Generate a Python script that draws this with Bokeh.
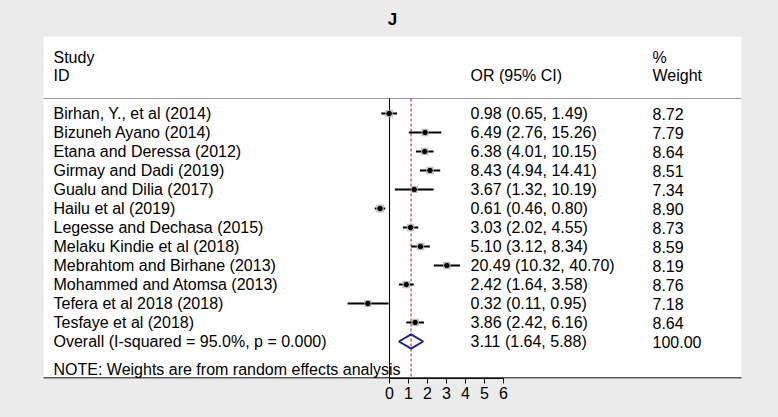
from bokeh.plotting import figure
from bokeh.models import Range1d, FixedTicker, LinearAxis, ColumnDataSource
from bokeh.core.properties import value
from bokeh.embed import file_html
from bokeh.resources import INLINE
import numpy as np

# ---------------- data ----------------
studies = ["Birhan, Y., et al (2014)", "Bizuneh Ayano  (2014)", "Etana and Deressa  (2012)",
           "Girmay and Dadi  (2019)", "Gualu and Dilia  (2017)", "Hailu  et al  (2019)",
           "Legesse and Dechasa  (2015)", "Melaku Kindie et al  (2018)", "Mebrahtom and Birhane  (2013)",
           "Mohammed and Atomsa (2013)", "Tefera et al 2018  (2018)", "Tesfaye et al  (2018)"]
or_vals = [0.98, 6.49, 6.38, 8.43, 3.67, 0.61, 3.03, 5.10, 20.49, 2.42, 0.32, 3.86]
ci_low = [0.65, 2.76, 4.01, 4.94, 1.32, 0.46, 2.02, 3.12, 10.32, 1.64, 0.11, 2.42]
ci_high = [1.49, 15.26, 10.15, 14.41, 10.19, 0.80, 4.55, 8.34, 40.70, 3.58, 0.95, 6.16]
weights = [8.72, 7.79, 8.64, 8.51, 7.34, 8.90, 8.73, 8.59, 8.19, 8.76, 7.18, 8.64]
overall_label = "Overall  (I-squared = 95.0%, p = 0.000)"
overall_or, overall_low, overall_high, overall_weight = 3.11, 1.64, 5.88, 100.00
axis_ticks = [0, 1, 2, 3, 4, 5, 6]
note = "NOTE: Weights are from random effects analysis"
title_text = "J"

# ---------------- layout helpers ----------------
W, H = 778, 417
OFF = 0                                  # page offset of the figure
X0_PAGE, XSCALE = 389.0, 19.0            # page x of ln(OR)=0 and px per unit
Y0_PAGE, YSTEP = 113.0, 19.0             # page y of first row and row spacing
FRAME_BOTTOM_PAGE = 378.0


def px(xp):
    return (xp - X0_PAGE) / XSCALE


def py(yp):
    return (yp - Y0_PAGE) / YSTEP


FONT = "Liberation Sans"
FS = "16px"

p = figure(width=W, height=H, output_backend="svg", toolbar_location=None,
           x_range=Range1d(px(OFF), px(OFF + W)),
           y_range=Range1d(py(FRAME_BOTTOM_PAGE), py(OFF)),
           min_border_left=0, min_border_right=0, min_border_top=0,
           min_border_bottom=int(OFF + H - FRAME_BOTTOM_PAGE),
           x_axis_type=None, y_axis_type=None)
p.background_fill_color = "#ebebeb"
p.border_fill_color = "#ebebeb"
p.outline_line_color = None
p.grid.visible = False

# white panel
p.quad(left=px(43), right=px(741), top=py(36), bottom=py(FRAME_BOTTOM_PAGE),
       fill_color="white", line_color=None)
# header separator
p.segment(x0=px(43), x1=px(741), y0=py(98), y1=py(98), line_color="#9a9a9a", line_width=1)
# bottom border
p.segment(x0=px(43), x1=px(741), y0=py(FRAME_BOTTOM_PAGE) - 0.02, y1=py(FRAME_BOTTOM_PAGE) - 0.02,
          line_color="#222222", line_width=1.5)

# null line and overall line
p.segment(x0=0, x1=0, y0=py(98), y1=py(FRAME_BOTTOM_PAGE), line_color="black", line_width=1)
p.segment(x0=np.log(overall_or), x1=np.log(overall_or), y0=py(98), y1=py(FRAME_BOTTOM_PAGE),
          line_color="#b0443f", line_width=1.2, line_dash="3 2")

rows = list(range(len(studies)))
src = ColumnDataSource(dict(
    y=rows,
    est=np.log(or_vals),
    lo=np.log(ci_low),
    hi=np.log(ci_high),
    size=np.sqrt(weights) * 2.6,
    study=studies,
    ci=[f"{o:.2f} ({l:.2f}, {h:.2f})" for o, l, h in zip(or_vals, ci_low, ci_high)],
    w=[f"{w:.2f}" for w in weights],
))

p.segment(x0="lo", x1="hi", y0="y", y1="y", source=src, line_color="black", line_width=1.8)
p.scatter(x="est", y="y", size="size", marker="square", source=src,
          fill_color="#b8b8b8", fill_alpha=0.85, line_color=None)
p.scatter(x="est", y="y", size=4.5, source=src, fill_color="black", line_color="black")

# overall diamond
oy = len(studies)
le, ee, he = np.log(overall_low), np.log(overall_or), np.log(overall_high)
p.patch(x=[le, ee, he, ee, le], y=[oy, oy - 0.37, oy, oy + 0.37, oy],
        fill_color=None, line_color="#1f1f8f", line_width=2)

# texts
tkw = dict(text_font=value(FONT), text_font_size=FS, text_color="black",
           text_baseline="middle", text_align="left")
p.text(x=px(53), y="y", text="study", source=src, **tkw)
p.text(x=px(470), y="y", text="ci", source=src, **tkw)
p.text(x=px(652), y="y", text="w", source=src, **tkw)

p.text(x=[px(53)], y=[oy], text=[overall_label], **tkw)
p.text(x=[px(470)], y=[oy], text=[f"{overall_or:.2f} ({overall_low:.2f}, {overall_high:.2f})"], **tkw)
p.text(x=[px(652)], y=[oy], text=[f"{overall_weight:.2f}"], **tkw)

p.text(x=[px(53), px(53), px(470), px(652), px(652)],
       y=[py(57), py(75), py(75), py(57), py(75)],
       text=["Study", "ID", "OR (95% CI)", "%", "Weight"], **tkw)
p.text(x=[px(53)], y=[py(369)], text=[note], **tkw)

p.text(x=[px(392)], y=[py(19)], text=[title_text], text_font=value(FONT), text_font_size="17px",
       text_font_style="bold", text_color="black", text_baseline="middle", text_align="center")

# x axis (log-OR units)
ax = LinearAxis(ticker=FixedTicker(ticks=axis_ticks), bounds=(axis_ticks[0], axis_ticks[-1]))
ax.axis_line_color = "black"
ax.axis_line_width = 1
ax.major_tick_line_color = "black"
ax.major_tick_out = 5
ax.major_tick_in = 0
ax.minor_tick_line_color = None
ax.major_label_text_font = FONT
ax.major_label_text_font_size = FS
ax.major_label_text_color = "black"
ax.major_label_standoff = 3
p.add_layout(ax, "below")

html = file_html(p, INLINE)
html = html.replace("</head>", "<style>html,body{background:#ebebeb;margin:0;padding:0;overflow:hidden;}</style></head>", 1)
open("out.html", "w").write(html)
